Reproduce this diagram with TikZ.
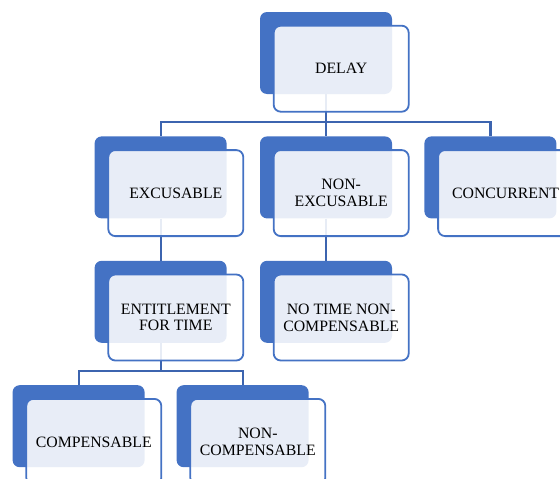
\documentclass[tikz,border=0pt]{standalone}
\usepackage{fontspec}
\setmainfont{Liberation Serif}
\usetikzlibrary{positioning}
\definecolor{delayblue}{RGB}{68,114,196}
\definecolor{delayline}{RGB}{60,100,175}

\begin{document}
\begin{tikzpicture}[
    back/.style={fill=delayblue, rounded corners=7pt, minimum width=132pt, minimum height=82pt, inner sep=0pt},
    front/.style={draw=delayblue, line width=1.8pt, fill=white, fill opacity=0.88, text opacity=1, text=black, rounded corners=7pt, minimum width=135pt, minimum height=86pt, inner sep=0pt, align=center, font=\fontsize{15.8}{16.7}\selectfont},
    link/.style={draw=delayline, line width=2.2pt}
]
\useasboundingbox (0,0) rectangle (560pt,-479pt);
\clip (0,0) rectangle (560pt,-479pt);
% back plates
\node[back] (delayb) at (326pt,-53pt) {};
\node[back, below left=42pt and 33pt of delayb] (excb) {};
\node[back, below=42pt of delayb] (nonexcb) {};
\node[back, below right=42pt and 32pt of delayb] (concb) {};
\node[back, below=42pt of excb] (entb) {};
\node[back, below=42pt of nonexcb] (notimeb) {};
\node[back, below=42pt of entb, xshift=-82pt] (compb) {};
\node[back, below=42pt of entb, xshift=82pt] (noncompb) {};
% connectors
\draw[link] (delayb.south) -- ++(0,-28pt) -| (excb.north);
\draw[link] (delayb.south) -- ++(0,-28pt) -| (concb.north);
\draw[link] (delayb.south) -- (nonexcb.north);
\draw[link] (excb.south) -- (entb.north);
\draw[link] (nonexcb.south) -- (notimeb.north);
\draw[link] (entb.south) -- ++(0,-28pt) -| (compb.north);
\draw[link] (entb.south) -- ++(0,-28pt) -| (noncompb.north);
% front cards
\node[front, below right=13pt and 13pt of delayb.north west] (delay) {DELAY};
\node[front, below right=13pt and 13pt of excb.north west] (exc) {EXCUSABLE};
\node[front, below right=13pt and 13pt of nonexcb.north west] (nonexc) {NON-\\EXCUSABLE};
\node[front, below right=13pt and 13pt of concb.north west] (conc) {CONCURRENT};
\node[front, below right=13pt and 13pt of entb.north west] (ent) {ENTITLEMENT\\FOR TIME};
\node[front, below right=13pt and 13pt of notimeb.north west] (notime) {NO TIME NON-\\COMPENSABLE};
\node[front, below right=13pt and 13pt of compb.north west] (comp) {COMPENSABLE};
\node[front, below right=13pt and 13pt of noncompb.north west] (noncomp) {NON-\\COMPENSABLE};
\end{tikzpicture}
\end{document}
